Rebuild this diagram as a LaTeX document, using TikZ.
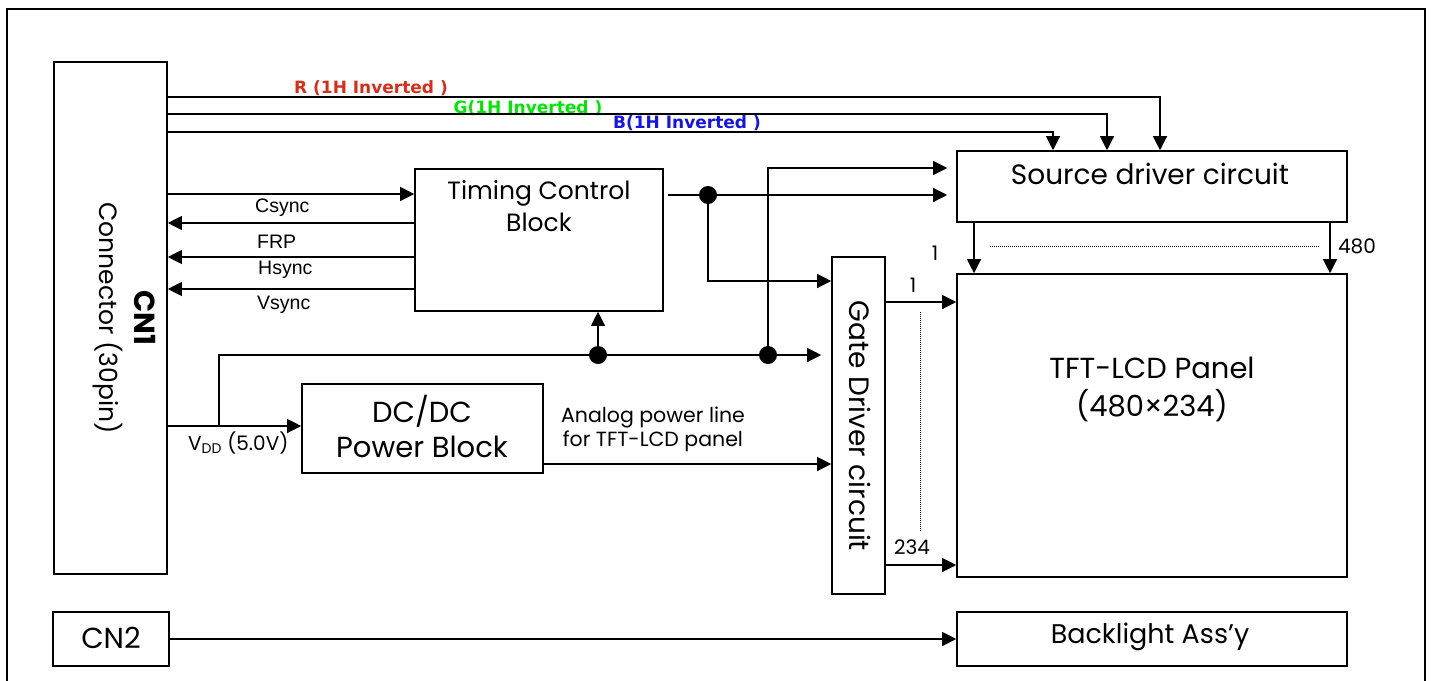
\documentclass[tikz,border=0pt]{standalone}
\usepackage{fontspec}
\setmainfont{Poppins}
\newfontfamily\arialf{Liberation Sans}
\newfontfamily\dejaf{DejaVu Sans}
\usetikzlibrary{arrows.meta,fit}
\definecolor{rcol}{RGB}{215,45,25}
\definecolor{gcol}{RGB}{0,230,0}
\definecolor{bcol}{RGB}{20,20,230}
\newcommand{\fsz}[2]{\fontsize{#1}{#2}\selectfont}
\begin{document}
\begin{tikzpicture}[x=1pt,y=-1pt,
 box/.style={draw,line width=1.6pt,inner sep=0pt},
 conn/.style={line width=1.2pt},
 arr/.style={conn,-{Triangle[length=14pt,width=14pt]}},
 txt/.style={align=center, inner sep=0pt},
 sig/.style={font=\arialf\fsz{19.5}{22}, inner sep=0pt, anchor=west},
 rgb/.style={font=\dejaf\bfseries\fsz{17}{20}, inner sep=0pt},
 dotj/.style={circle,fill,inner sep=0pt,minimum size=18pt},
 num/.style={font=\fsz{20}{22},inner sep=0pt},
 dotl/.style={line width=0.8pt,dash pattern=on 1pt off 1pt}
]
\useasboundingbox (0,0) rectangle (1431,680);
\draw[line width=2.5pt] (7,700) -- (7,9) -- (1425,9) -- (1425,700);

% boxes
\node[box, fit={(54,62) (167,574)}] (cn1) {};
\node[box, fit={(415,169) (663,311)}] (tim) {};
\node[box, fit={(957,151) (1347,222)}] (src) {};
\node[box, fit={(832,257) (885,594)}] (gate) {};
\node[box, fit={(957,274) (1347,577)}] (panel) {};
\node[box, fit={(302,384) (543,473)}] (dcdc) {};
\node[box, fit={(53,612) (169,666)}] (cn2) {};
\node[box, fit={(957,612) (1347,666)}] (bl) {};

% texts
\node[rotate=-90, font=\bfseries\fsz{29}{32}, inner sep=0pt] (cn1a) at (145,318) {CN1};
\node[rotate=-90, txt, font=\fsz{25}{30}] (cn1b) at (108,318) {Connector (30pin)};
\node[txt, font=\fsz{25}{32}] (timt) at (539,206) {Timing Control\\Block};
\node[txt, font=\fsz{28}{32}] (srct) at (1150,174) {Source driver circuit};
\node[rotate=-90, txt, font=\fsz{28}{32}] (gatet) at (860,426) {Gate Driver circuit};
\node[txt, font=\fsz{29}{38}] (panelt) at (1152,389) {TFT-LCD Panel\\(480×234)};
\node[txt, font=\fsz{29}{35}] (dcdct) at (422,426) {DC/DC\\Power Block};
\node[txt, font=\fsz{20.5}{24}] (analog) at (653,429) {Analog power line\\for TFT-LCD panel};
\node[txt, font=\fsz{29}{32}] (cn2t) at (111,638) {CN2};
\node[txt, font=\fsz{27}{32}] (blt) at (1150,637) {Backlight Ass'y};
\node[sig] (lcs) at (255,208) {Csync};
\node[sig] (lfrp) at (257,242) {FRP};
\node[sig] (lhs) at (258,270) {Hsync};
\node[sig] (lvs) at (257,305) {Vsync};
\node[num, anchor=west] (vdd) at (188,443) {V\textsubscript{DD} (5.0V)};
\node[rgb, text=rcol] (lr) at (371,88) {R (1H Inverted )};
\node[rgb, text=gcol] (lg) at (528,108) {G(1H Inverted )};
\node[rgb, text=bcol] (lb) at (687,123) {B(1H Inverted )};
\node[num] (n1a) at (935,253) {1};
\node[num] (n480) at (1357,246) {480};
\node[num] (n1b) at (913,285) {1};
\node[num] (n234) at (912,547) {234};

% junctions
\node[dotj] (j1) at (708,195) {};
\node[dotj] (j2) at (598,355) {};
\node[dotj] (j3) at (768,355) {};
\coordinate (vb) at (219,426);

% RGB lines
\draw[arr] (cn1.east |- 0,97) -| (1160,0 |- src.north);
\draw[arr] (cn1.east |- 0,114) -| (1107,0 |- src.north);
\draw[arr] (cn1.east |- 0,132) -| (1053,0 |- src.north);

% timing signals
\draw[arr] (cn1.east |- 0,194) -- (tim.west |- 0,194);
\draw[arr] (tim.west |- 0,223) -- (cn1.east |- 0,223);
\draw[arr] (tim.west |- 0,257) -- (cn1.east |- 0,257);
\draw[arr] (tim.west |- 0,289) -- (cn1.east |- 0,289);

% timing outputs
\draw[arr, shorten >=9pt] ([xshift=4pt]tim.east |- j1) -- (src.west |- j1);
\draw[arr] (j1.center) |- (gate.west |- 0,281);

% power
\draw[arr] (cn1.east |- vb) -- (dcdc.west |- vb);
\draw[arr, shorten >=10pt] (vb) |- (gate.west |- j2);
\draw[arr] (j2.center) -- (tim.south -| j2);
\draw[arr, shorten >=9pt] (j3.center) |- (src.west |- 0,168);
\draw[arr] (dcdc.east |- 0,464) -- (gate.west |- 0,464);

% gate / source outputs
\draw[arr] (gate.east |- 0,302) -- (panel.west |- 0,302);
\draw[arr] (gate.east |- 0,565) -- (panel.west |- 0,565);
\draw[dotl] (920,312) -- (920,532);
\draw[arr] (src.south -| 974,0) -- (panel.north -| 974,0);
\draw[arr] (src.south -| 1330,0) -- (panel.north -| 1330,0);
\draw[dotl] (990,246) -- (1320,246);

% backlight
\draw[arr] (cn2) -- (bl);
\end{tikzpicture}
\end{document}
